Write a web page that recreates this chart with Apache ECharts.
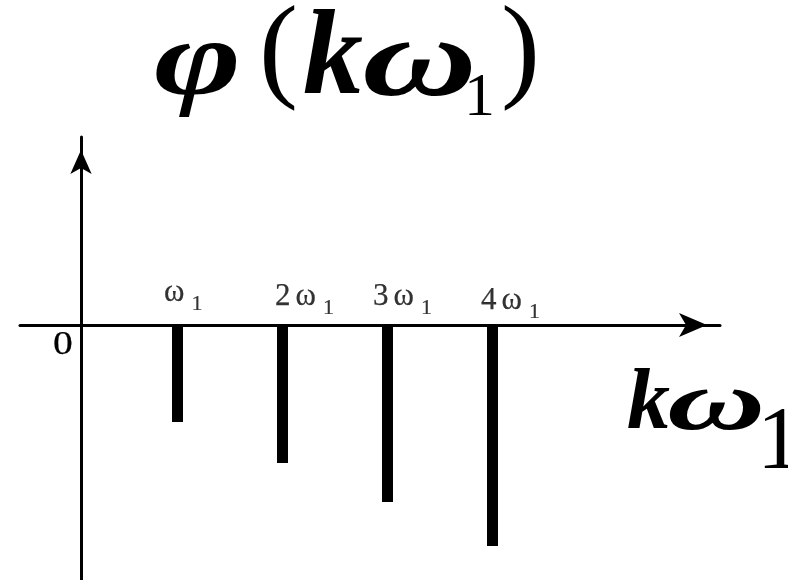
<!DOCTYPE html>
<html>
<head>
<meta charset="utf-8">
<script src="https://cdn.jsdelivr.net/npm/echarts@6/dist/echarts.min.js"></script>
<style>
  html, body { margin: 0; padding: 0; background: #fff; }
  #chart { width: 788px; height: 580px; }
</style>
</head>
<body>
<div id="chart"></div>
<script>
// Harmonic number k and the phase of each harmonic (phase spectrum, all lagging)
const harmonics = [1, 2, 3, 4];
const phases = [-0.97, -1.38, -1.77, -2.21];
// Tick labels: coefficient in front of ω, subscript 1 after it
const tickCoeffs = ['', '2', '3', '4'];

const FAMILY = 'Liberation Serif';

// Small per-label nudges [dx, dy] in px (label placement style)
const labelNudge = [[-13, -9], [-7, -5], [-14, -5], [-11, -1]];

function tickRich(i) {
  const c = tickCoeffs[i];
  return (c ? '{n|' + c + '}' : '') + '{w|ω}{s|1}';
}

// A glyph of the formula text; the second number is its alphabetic baseline
function glyph(text, x, baseline, size, italicBold, scaleX, strokeW) {
  return {
    type: 'text',
    x: x,
    y: baseline - 0.29 * size,
    scaleX: scaleX || 1,
    silent: true,
    style: {
      text: text,
      font: (italicBold ? 'italic bold ' : '') + size + 'px "' + FAMILY + '"',
      fill: '#000',
      stroke: strokeW ? '#000' : null,
      lineWidth: strokeW || 0,
      align: 'left',
      verticalAlign: 'middle'
    }
  };
}

const chart = echarts.init(document.getElementById('chart'), null, { renderer: 'canvas' });

chart.setOption({
  animation: false,
  backgroundColor: '#ffffff',
  graphic: [
    // title φ(kω1)
    glyph('φ', 154, 97, 108, true, 1.38),
    glyph('(', 259, 89, 117, false),
    glyph('k', 303, 97, 120, true),
    glyph('ω', 362, 99, 112, true, 1.42),
    glyph('1', 464, 117, 62, false),
    glyph(')', 501, 89, 117, false),
    // horizontal axis name kω1
    glyph('k', 627, 431, 86, true),
    glyph('ω', 667, 432, 85, true, 1.6),
    glyph('1', 757, 469, 89, false),
    // origin
    glyph('0', 53, 355, 33, false, 1.2, 0.25)
  ],
  grid: { left: 20, right: 68, top: 137, bottom: 0, containLabel: false },
  xAxis: {
    type: 'value',
    min: -0.5,
    max: 6.1667,
    axisLine: {
      onZero: true,
      lineStyle: { color: '#000', width: 3 },
      symbol: ['none', 'arrow'],
      symbolSize: [18, 28],
      symbolOffset: [0, -13]
    },
    axisTick: { show: false },
    axisLabel: { show: false },
    splitLine: { show: false }
  },
  yAxis: {
    type: 'value',
    min: -2.55,
    max: 1.88,
    offset: -61,
    axisLine: {
      onZero: false,
      lineStyle: { color: '#000', width: 3 },
      symbol: ['none', 'arrow'],
      symbolSize: [16, 24],
      symbolOffset: [0, -13]
    },
    axisTick: { show: false },
    axisLabel: { show: false },
    splitLine: { show: false }
  },
  series: [
    {
      type: 'bar',
      barWidth: 11,
      itemStyle: { color: '#000' },
      silent: true,
      data: harmonics.map((k, i) => [k, phases[i]])
    },
    {
      // harmonic labels sitting on the axis above each line
      type: 'scatter',
      symbolSize: 1,
      itemStyle: { color: 'rgba(0,0,0,0)' },
      silent: true,
      data: harmonics.map((k, i) => ({
        value: [k, 0],
        label: { position: labelNudge[i] }
      })),
      label: {
        show: true,
        align: 'left',
        verticalAlign: 'bottom',
        color: '#000',
        fontFamily: FAMILY,
        formatter: (p) => tickRich(p.dataIndex),
        rich: {
          n: { fontFamily: FAMILY, fontSize: 31, color: '#000', textBorderColor: '#000', textBorderWidth: 0.25, verticalAlign: 'bottom', lineHeight: 31, padding: [0, 5, 7, 0] },
          w: { fontFamily: FAMILY, fontSize: 31, color: '#000', textBorderColor: '#000', textBorderWidth: 0.25, verticalAlign: 'bottom', lineHeight: 31, padding: [0, 7, 7, 0] },
          s: { fontFamily: FAMILY, fontSize: 22, color: '#000', textBorderColor: '#000', textBorderWidth: 0.2, verticalAlign: 'bottom', lineHeight: 22 }
        }
      }
    }
  ]
});
</script>
</body>
</html>
